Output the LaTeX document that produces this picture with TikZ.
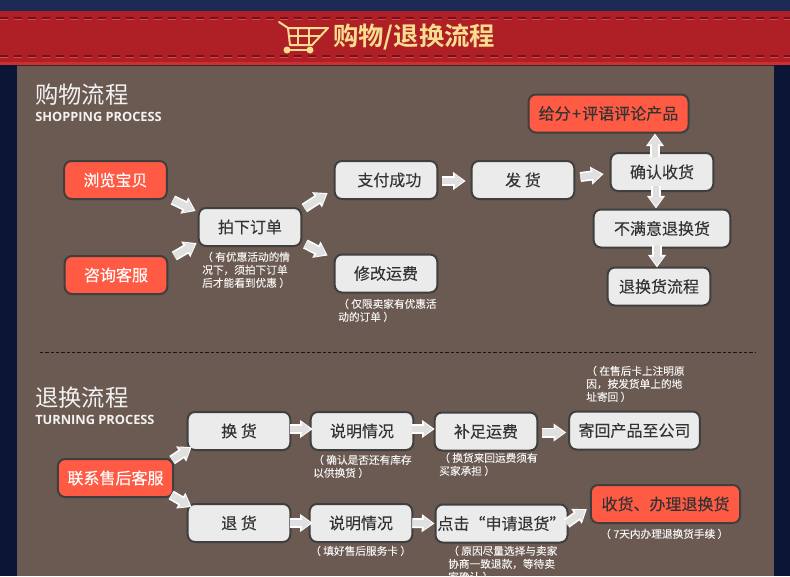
\documentclass[tikz,border=0pt]{standalone}
\usepackage{fontspec}
\setmainfont{Noto Sans CJK SC}[BoldFont={* Bold}]
\newfontfamily\heavycn{Noto Sans CJK SC}[FakeBold=0.12]
\newfontfamily\latinhead{Open Sans}
\usetikzlibrary{arrows.meta}
\definecolor{navy}{HTML}{0B1636}
\definecolor{navytop}{HTML}{1B2A54}
\definecolor{panel}{HTML}{6A5A52}
\definecolor{bandred}{HTML}{AE2026}
\definecolor{bandedge}{HTML}{CF2E33}
\definecolor{stitch}{HTML}{76101A}
\definecolor{stitchlight}{HTML}{D8484A}
\definecolor{gold}{HTML}{F6DD8F}
\definecolor{boxfill}{HTML}{EBEBEB}
\definecolor{boxline}{HTML}{3F3F3F}
\definecolor{hot}{HTML}{FF5A44}
\definecolor{boxtext}{HTML}{333333}
\definecolor{arrowgray}{HTML}{E0E0E0}
\tikzset{
  x=.75pt,y=-.75pt,
  gbox/.style={draw=boxline,line width=1.5pt,fill=boxfill,rounded corners=5.5pt,inner sep=0pt,
    minimum width=77pt,minimum height=28.5pt,text=boxtext,font=\heavycn\fontsize{12}{14}\selectfont},
  hotbox/.style={gbox,fill=hot,text=white},
  hotdark/.style={gbox,fill=hot},
  note/.style={anchor=north west,inner sep=0pt,align=left,text=white!92!panel,
    font=\heavycn\fontsize{8}{9.75}\selectfont},
  ba/.style={line width=5pt,draw=arrowgray,shorten >=1.6pt,-{Triangle[length=6.5pt,width=10pt,fill=arrowgray]},
    preaction={draw=white,line width=7.5pt,shorten >=0pt,-{Triangle[length=9.5pt,width=13pt,fill=white]}}},
  headcn/.style={anchor=west,inner sep=0pt,text=white!92!panel,font=\fontsize{17.5}{20}\selectfont},
  headen/.style={anchor=west,inner sep=0pt,text=white!92!panel,font=\latinhead\bfseries\fontsize{9.6}{12}\selectfont},
  stitchline/.style={line width=.8pt,dash pattern=on 6pt off 4.5pt},
  cart/.style={draw=gold,line width=1.1pt,line cap=round,line join=round}
}
\begin{document}
\begin{tikzpicture}
\useasboundingbox (0,0) rectangle (790,576);
\clip (0,0) rectangle (790,576);
\fill[navy] (0,0) rectangle (790,576);
\fill[navytop] (0,0) rectangle (790,11);
\fill[panel] (17,64) rectangle (774,576);
\fill[black!55!panel] (17,64) rectangle (774,66);
\fill[bandred] (0,11) rectangle (790,62);
\fill[bandedge] (0,62) rectangle (790,64.5);
\draw[stitchlight,stitchline] (0,19) -- (790,19);
\draw[stitchlight,stitchline] (0,57) -- (790,57);
\draw[stitch,stitchline] (0,18) -- (790,18);
\draw[stitch,stitchline] (0,56) -- (790,56);
% cart icon
\draw[cart,line width=1.5pt] (279,22) -- (288,28) -- (328,28) -- (312,45) -- (290,45) -- (288,28);
\draw[cart] (289,36) -- (320,36) (298,28) -- (298,45) (309,28) -- (309,45);
\draw[cart,line width=1.5pt] (287,50) -- (310,50);
\fill[gold] (287,50) circle (3.5) (310,50) circle (3.5);
\node[anchor=west,inner sep=0pt,text=gold,font=\bfseries\fontsize{19}{22}\selectfont] (title) at (333,37) {购物/退换流程};
% headings
\node[headcn] (h1) at (35,95) {购物流程};
\node[headen] (h1e) at (35,116.5) {SHOPPING PROCESS};
\node[headcn] (h2) at (35,398) {退换流程};
\node[headen] (h2e) at (35,419.5) {TURNING PROCESS};
\draw[black!75!panel,line width=.75pt,dash pattern=on 2.5pt off 1.5pt] (40,352) -- (755,352);
% shopping boxes
\node[hotbox] (browse) at (115.5,180) {浏览宝贝};
\node[hotbox] (ask) at (116,275) {咨询客服};
\node[gbox] (order) at (250,227) {拍下订单};
\node[gbox] (paid) at (386,180) {\hspace*{5pt}支付成功};
\node[gbox] (ship) at (523,180) {发 货};
\node[gbox] (confirm) at (662,172) {确认收货};
\node[hotdark,minimum width=120pt] (rate) at (608.5,113.5) {给分\kern1pt+\kern1pt评语评论产品};
\node[gbox,minimum width=102.5pt] (unhappy) at (662,228.5) {不满意退换货};
\node[gbox] (rflow) at (659,286.5) {退换货流程};
\node[gbox] (fee) at (386,273.5) {修改运费};
% shopping arrows
\draw[ba] ([shift={(5,0)}]browse.south east) -- ([shift={(-2,4)}]order.north west);
\draw[ba] ([shift={(6,-39)}]ask.south east) -- ([shift={(-1,-4)}]order.south west);
\draw[ba] ([shift={(2,1)}]order.north east) -- ([shift={(-6,-7)}]paid.south west);
\draw[ba] ([shift={(3,-3)}]order.south east) -- ([shift={(-6,2)}]fee.north west);
\draw[ba] (paid.east) ++(4,1) -- ([shift={(-5,1)}]ship.west);
\draw[ba] (ship.east) ++(5,-3) -- ([shift={(-6,2)}]confirm.west);
\draw[ba] ([shift={(-7,5)}]confirm.north) -- ([shift={(46.5,0)}]rate.south);
\draw[ba] ([shift={(-6,-6)}]confirm.south) -- ([shift={(-6,0)}]unhappy.north);
\draw[ba] ([shift={(-5,-4)}]unhappy.south) -- ([shift={(-2,1)}]rflow.north);
% shopping notes
\node[note] (n1) at (202,251.5) {（ 有优惠活动的情\\况下，须拍下订单\\后才能看到优惠 ）};
\node[note] (n2) at (338,298.5) {（ 仅限卖家有优惠活\\动的订单 ）};
% returns boxes
\node[hotbox,minimum width=86.5pt] (contact) at (115.5,478) {联系售后客服};
\node[gbox] (swap) at (239,431) {换 货};
\node[gbox] (desc1) at (362,431) {说明情况};
\node[gbox] (topup) at (486,431.5) {补足运费};
\node[gbox,minimum width=98pt] (send) at (634.5,430.5) {寄回产品至公司};
\node[gbox] (ret) at (239,523) {退 货};
\node[gbox] (desc2) at (361,523) {说明情况};
\node[gbox,minimum width=99pt] (click) at (501.5,523.5) {点击“申请退货”};
\node[hotdark,minimum width=112pt] (recv) at (665.5,504) {收货、办理退换货};
% returns arrows
\draw[ba] ([shift={(-2,2)}]contact.north east) -- ([shift={(5,-4)}]swap.south west);
\draw[ba] ([shift={(-3,-3)}]contact.south east) -- ([shift={(5,4)}]ret.north west);
\draw[ba] (swap.east) ++(-1,-2) -- ([shift={(3,-2)}]desc1.west);
\draw[ba] (ret.east) ++(-1,0) -- ([shift={(4,0)}]desc2.west);
\draw[ba] (desc1.east) ++(-2,-2) -- ([shift={(1,-2.5)}]topup.west);
\draw[ba] (desc2.east) ++(-1,0) -- ([shift={(0,0)}]click.west);
\draw[ba] (topup.east) ++(4,1) -- ([shift={(-2,2)}]send.west);
\draw[ba] (click.east) ++(-2,0) -- ([shift={(-3,5)}]recv.west);
% returns notes
\node[note] (n3) at (313,454.5) {（ 确认是否还有库存\\以供换货 ）};
\node[note] (n4) at (439,452.5) {（ 换货来回运费须有\\买家承担 ）};
\node[note] (n5) at (586,365.5) {（ 在售后卡上注明原\\因，按发货单上的地\\址寄回 ）};
\node[note] (n6) at (310,545.5) {（ 填好售后服务卡 ）};
\node[note] (n7) at (448,545.5) {（ 原因尽量选择与卖家\\协商一致退款，等待卖\\家确认 ）};
\node[note] (n8) at (600,528.5) {（ 7天内办理退换货手续 ）};
\end{tikzpicture}
\end{document}
